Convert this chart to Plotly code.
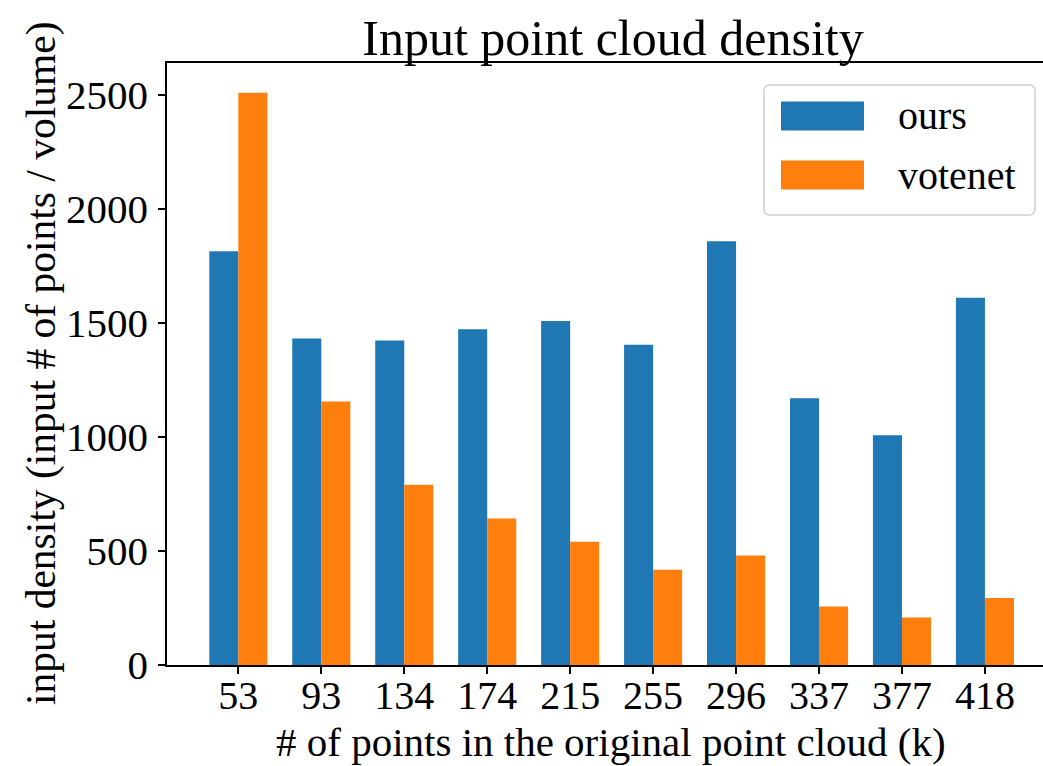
import plotly.graph_objects as go

categories = ["53", "93", "134", "174", "215", "255", "296", "337", "377", "418"]
ours = [1815, 1432, 1423, 1472, 1509, 1404, 1858, 1170, 1008, 1611]
votenet = [2510, 1156, 791, 642, 541, 418, 480, 257, 208, 294]
series_names = ["ours", "votenet"]
colors = ["#1f77b4", "#ff7f0e"]
x_title = "# of points in the original point cloud (k)"
y_title = "input density (input # of points / volume)"
chart_title = "Input point cloud density"

W, H = 1043, 766
L, R, T, B = 167, 0, 63, 101
PW, PH = W - L - R, H - T - B

def px_x(px):
    return (px - L) / PW

def px_y(py):
    return (H - B - py) / PH

FONT = "Liberation Serif, Times New Roman, serif"

fig = go.Figure()
for name, vals, col in zip(series_names, [ours, votenet], colors):
    fig.add_trace(go.Bar(x=categories, y=vals, name=name,
                         marker=dict(color=col, line=dict(width=0)),
                         showlegend=False))

fig.update_layout(
    width=W, height=H,
    margin=dict(l=L, r=R, t=T, b=B, autoexpand=False),
    paper_bgcolor="white", plot_bgcolor="white",
    barmode="group", bargap=0.3, bargroupgap=0,
    font=dict(family=FONT, color="black", size=40),
    title=dict(text=chart_title, x=px_x(613), xref="paper",
               xanchor="center", y=1 - 37 / H, yref="container", yanchor="middle",
               font=dict(family=FONT, size=50, color="black")),
    xaxis=dict(type="category", range=[-0.86, 9.70], showline=True, mirror=True,
               linecolor="black", linewidth=1.6, ticks="outside", ticklen=7,
               tickwidth=1.6, tickcolor="black", showgrid=False, zeroline=False,
               tickfont=dict(size=40), ticklabelstandoff=-13),
    yaxis=dict(range=[0, 2640], showline=True, linecolor="black", linewidth=1.6,
               ticks="outside", ticklen=7, tickwidth=1.6, tickcolor="black",
               tickvals=[0, 500, 1000, 1500, 2000, 2500], showgrid=False,
               zeroline=False, tickfont=dict(size=41), ticklabelstandoff=2),
)

# axis titles as annotations for precise placement
fig.add_annotation(text=x_title, xref="paper", yref="paper", x=px_x(611), y=px_y(742),
                   xanchor="center", yanchor="middle", showarrow=False,
                   font=dict(family=FONT, size=41, color="black"))
fig.add_annotation(text=y_title, xref="paper", yref="paper", x=px_x(41), y=px_y(363),
                   xanchor="center", yanchor="middle", showarrow=False, textangle=-90,
                   font=dict(family=FONT, size=41.5, color="black"))

# legend drawn manually to match the large patches of the reference
bx0, bx1, by0, by1 = px_x(764), px_x(1035), px_y(215), px_y(85)
rx, ry = 6 / PW, 6 / PH
path = (f"M {bx0+rx},{by1} L {bx1-rx},{by1} Q {bx1},{by1} {bx1},{by1-ry} "
        f"L {bx1},{by0+ry} Q {bx1},{by0} {bx1-rx},{by0} L {bx0+rx},{by0} "
        f"Q {bx0},{by0} {bx0},{by0+ry} L {bx0},{by1-ry} Q {bx0},{by1} {bx0+rx},{by1} Z")
fig.add_shape(type="path", path=path, xref="paper", yref="paper",
              line=dict(color="#d0d0d0", width=1.5), fillcolor="rgba(255,255,255,0.8)")
row_centers = [116, 175]
for name, col, cy in zip(series_names, colors, row_centers):
    fig.add_shape(type="rect", xref="paper", yref="paper",
                  x0=px_x(781), x1=px_x(864), y0=px_y(cy + 14.5), y1=px_y(cy - 14.5),
                  fillcolor=col, line=dict(width=0))
    fig.add_annotation(text=name, xref="paper", yref="paper", x=px_x(896), y=px_y(cy),
                       xanchor="left", yanchor="middle", showarrow=False,
                       font=dict(family=FONT, size=40, color="black"))

fig.write_html("out.html", config={"displayModeBar": False},
               post_script="document.body.style.margin='0';")
